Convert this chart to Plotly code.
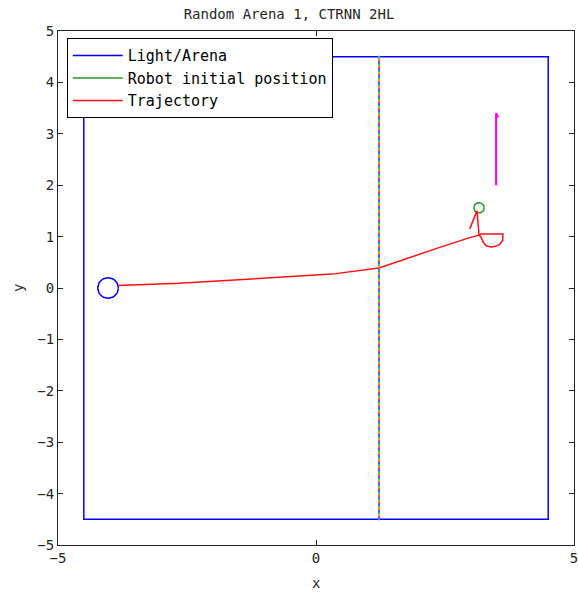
import numpy as np
import plotly.graph_objects as go

# ---- data ----
arena_x = [-4.5, 4.5, 4.5, -4.5, -4.5]
arena_y = [4.5, 4.5, -4.5, -4.5, 4.5]

light_center = (-4.03, 0.0)
light_radius = 0.2

robot_center = (3.16, 1.56)
robot_radius = 0.1

traj_x = [2.98, 3.12, 3.16, 3.20, 3.62, 3.62, 3.56, 3.48, 3.39, 3.30, 3.24, 3.20,
          3.16, 2.95, 2.40, 1.80, 1.22, 0.31, -0.97, -2.66, -3.83]
traj_y = [1.15, 1.50, 1.03, 1.05, 1.05, 0.93, 0.85, 0.81, 0.80, 0.82, 0.89, 0.99,
          1.03, 0.97, 0.79, 0.59, 0.39, 0.27, 0.19, 0.09, 0.05]

magenta_x = [3.53, 3.49, 3.49]
magenta_y = [3.32, 3.40, 2.00]

wall_x = [1.22, 1.22]
wall_y = [-4.5, 4.5]

xticks = [-5, 0, 5]
yticks = [-5, -4, -3, -2, -1, 0, 1, 2, 3, 4, 5]

FONT = "DejaVu Sans Mono"

fig = go.Figure()

fig.add_trace(go.Scatter(x=arena_x, y=arena_y, mode="lines", name="Light/Arena",
                         line=dict(color="#0000ff", width=1.5)))

# light circle
t = np.linspace(0, 2 * np.pi, 60)
fig.add_trace(go.Scatter(x=light_center[0] + light_radius * np.cos(t),
                         y=light_center[1] + light_radius * np.sin(t),
                         mode="lines", showlegend=False,
                         line=dict(color="#0000ff", width=1.5)))

# robot initial position
fig.add_trace(go.Scatter(x=robot_center[0] + robot_radius * np.cos(t),
                         y=robot_center[1] + robot_radius * np.sin(t),
                         mode="lines", name="Robot initial position",
                         line=dict(color="#229a22", width=1.5)))

fig.add_trace(go.Scatter(x=traj_x, y=traj_y, mode="lines", name="Trajectory",
                         line=dict(color="#ff1010", width=1.5)))

fig.add_trace(go.Scatter(x=magenta_x, y=magenta_y, mode="lines", showlegend=False,
                         line=dict(color="#ff00ff", width=2)))

# multicolour dotted wall
n = 470
wy = np.linspace(wall_y[0], wall_y[1], n)
palette = ["#00c8ff", "#3050ff", "#b040ff", "#ff3070", "#ff8a00", "#d0c000", "#40c040"]
cols = [palette[i % len(palette)] for i in range(n)]
fig.add_trace(go.Scatter(x=[wall_x[0]] * n, y=wy, mode="markers", showlegend=False,
                         marker=dict(symbol="square", size=2, color=cols,
                                     line=dict(width=0))))

axis_common = dict(range=[-5, 5], showgrid=False, zeroline=False, showline=True,
                   linecolor="#262626", linewidth=1, mirror="ticks", ticks="inside",
                   ticklen=5, tickcolor="#262626", ticklabeloverflow="allow",
                   automargin=False,
                   tickfont=dict(family=FONT, size=14, color="#262626"))

fig.update_xaxes(tickvals=xticks, ticktext=[("\u2212" + str(-v)) if v < 0 else str(v) for v in xticks],
                 **axis_common)
fig.update_yaxes(tickvals=yticks, ticktext=[("\u2212" + str(-v)) if v < 0 else str(v) for v in yticks],
                 **axis_common)

fig.update_layout(
    width=578, height=598,
    margin=dict(l=58, r=4, t=31, b=53),
    paper_bgcolor="white", plot_bgcolor="white",
    title=dict(text="Random Arena 1, CTRNN 2HL", x=0.5, xanchor="center",
               y=1 - 14 / 598, yanchor="middle", yref="container",
               font=dict(family=FONT, size=14, color="#262626")),
    legend=dict(x=0.017, y=0.986, xanchor="left", yanchor="top",
                bgcolor="white", bordercolor="black", borderwidth=1,
                itemwidth=50,
                font=dict(family=FONT, size=15, color="black"),
                tracegroupgap=0),
    annotations=[
        dict(text="x", xref="paper", yref="paper", x=0.5, y=-(583 - 545) / 514,
             showarrow=False, xanchor="center", yanchor="middle",
             font=dict(family=FONT, size=14, color="#262626")),
        dict(text="y", xref="paper", yref="paper", x=(18 - 58) / 516, y=0.5,
             showarrow=False, textangle=-90, xanchor="center", yanchor="middle",
             font=dict(family=FONT, size=14, color="#262626")),
    ],
    showlegend=True,
)

fig.write_html("out.html")
